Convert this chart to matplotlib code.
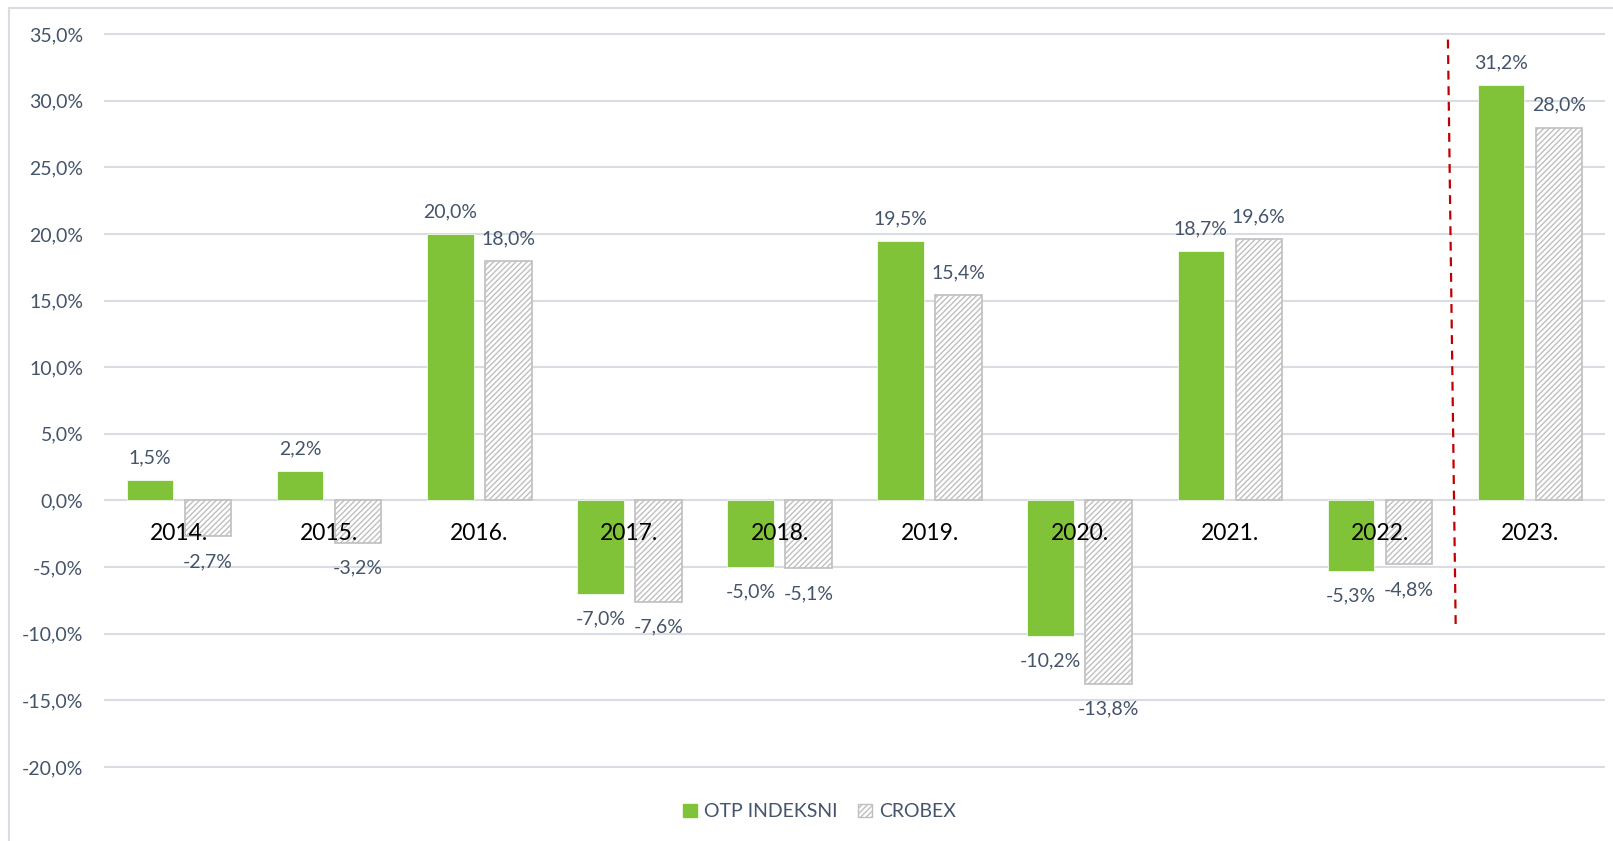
import matplotlib.pyplot as plt
from matplotlib.patches import Rectangle, Patch

plt.rcParams['font.family'] = ['Lato', 'DejaVu Sans']
plt.rcParams['hatch.color'] = '#383838'
plt.rcParams['hatch.linewidth'] = 1.0

# Godišnji prinosi (%)
godine = ['2014.', '2015.', '2016.', '2017.', '2018.', '2019.', '2020.', '2021.', '2022.', '2023.']
otp_indeksni = [1.5, 2.2, 20.0, -7.0, -5.0, 19.5, -10.2, 18.7, -5.3, 31.2]
crobex = [-2.7, -3.2, 18.0, -7.6, -5.1, 15.4, -13.8, 19.6, -4.8, 28.0]

boja_teksta = '#44546A'
zelena = '#80C339'

def fmt(v):
    return f'{v:.1f}%'.replace('.', ',')

fig = plt.figure(figsize=(16.13, 8.41), dpi=100)
ax = fig.add_axes([0.0645, 0.0723, 0.9306, 0.9028])

x = range(len(godine))
w = 0.31
pomak = 0.193

b1 = ax.bar([i - pomak for i in x], otp_indeksni, width=w, color=zelena,
            edgecolor='white', linewidth=0.5, zorder=3)
b2 = ax.bar([i + pomak for i in x], crobex, width=w, color='white',
            edgecolor='#BFBFBF', linewidth=1.2, hatch='//////', zorder=3)

# oznake vrijednosti iznad/ispod stupaca
for bars, vals in ((b1, otp_indeksni), (b2, crobex)):
    for b, v in zip(bars, vals):
        cx = b.get_x() + b.get_width() / 2
        dy = 16 if v >= 0 else -18
        ax.annotate(fmt(v), (cx, v), xytext=(0, dy), textcoords='offset points',
                    ha='center', va='center', fontsize=14, color=boja_teksta)

# godine uz os nula
for i, g in enumerate(godine):
    ax.annotate(g, (i, 0), xytext=(0, -24), textcoords='offset points',
                ha='center', va='center', fontsize=16.5, color='black', zorder=4)

# crvena isprekidana linija prije 2023.
ax.plot([8.453, 8.505], [34.6, -9.7], color='#C00000', linestyle=(0, (4, 3)),
        linewidth=1.6, zorder=4)

ax.set_xlim(-0.5, 9.5)
ax.set_ylim(-21, 36)
ax.set_yticks(range(-20, 36, 5))
ax.set_yticklabels([fmt(t) for t in range(-20, 36, 5)])
ax.set_xticks([])
ax.tick_params(axis='y', length=0, pad=15, labelsize=14, labelcolor=boja_teksta)
ax.grid(axis='y', color='#D9DDE3', linewidth=1.5, zorder=0)
for s in ax.spines.values():
    s.set_visible(False)

# okvir grafikona
fig.patches.append(Rectangle((9 / 1613, -0.1), 1.2, 1.1 - 8 / 841, transform=fig.transFigure,
                             fill=False, edgecolor='#D9DDE3', linewidth=1.5))

handles = [Patch(facecolor=zelena, edgecolor=zelena),
           Patch(facecolor='white', edgecolor='#BFBFBF', hatch='//////')]
fig.legend(handles, ['OTP INDEKSNI', 'CROBEX'], loc='center', bbox_to_anchor=(0.508, 0.0345),
           ncol=2, frameon=False, fontsize=14, labelcolor=boja_teksta,
           handlelength=0.7, handleheight=0.7, handletextpad=0.35, columnspacing=1.1)

fig.savefig('out.png', dpi=100)
